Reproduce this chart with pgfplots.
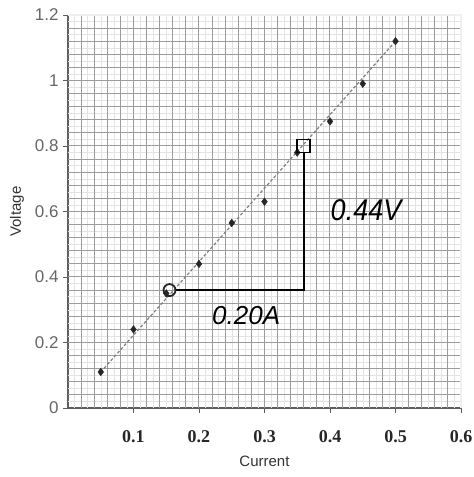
\documentclass[border=0pt]{standalone}
\usepackage{fontspec}
\setmainfont{Liberation Serif}
\setsansfont{Liberation Sans}
\usepackage{pgfplots}
\pgfplotsset{compat=1.18}

\definecolor{gridmaj}{HTML}{9C9C9C}
\definecolor{gridmin}{HTML}{E3E3E3}
\definecolor{axgray}{HTML}{5E5E5E}

\begin{document}
\begin{tikzpicture}
\begin{axis}[
  scale only axis,
  width=393pt, height=393pt,
  xmin=0, xmax=0.6, ymin=0, ymax=1.2,
  axis x line*=bottom, axis y line*=left,
  axis line style={axgray, line width=1.3pt},
  xtick={0.1,0.2,0.3,0.4,0.5,0.6},
  ytick={0,0.2,0.4,0.6,0.8,1,1.2},
  tick style={axgray, line width=0.9pt},
  major tick length=5pt,
  tick align=outside,
  /pgf/number format/assume math mode=true,
  xticklabel style={font=\fontsize{18}{20}\selectfont\bfseries, text=black!85, yshift=-14pt},
  yticklabel style={font=\sffamily\fontsize{17}{19}\selectfont, text=black!60, xshift=-1pt},
  xlabel={Current}, ylabel={Voltage},
  xlabel style={font=\sffamily\fontsize{15}{17}\selectfont, yshift=-6pt, text=black!80},
  ylabel style={font=\sffamily\fontsize{15}{17}\selectfont, yshift=4pt, text=black!80},
  clip=false,
]
  % graph paper: faint lines
  \pgfplotsinvokeforeach{0.01,0.03,...,0.59}{
    \draw[gridmin, line width=0.45pt] (axis cs:#1,0) -- (axis cs:#1,1.2);
  }
  \pgfplotsinvokeforeach{0.02,0.06,...,1.18}{
    \draw[gridmin, line width=0.45pt] (axis cs:0,#1) -- (axis cs:0.6,#1);
  }
  % graph paper: main lines
  \pgfplotsinvokeforeach{0.02,0.04,...,0.59}{
    \draw[gridmaj, line width=1.0pt] (axis cs:#1,0) -- (axis cs:#1,1.2);
  }
  \pgfplotsinvokeforeach{0.04,0.08,...,1.18}{
    \draw[gridmaj, line width=1.0pt] (axis cs:0,#1) -- (axis cs:0.6,#1);
  }
  \draw[gridmin!80!black!20, line width=1.2pt] (rel axis cs:0,1) -- (rel axis cs:1,1) -- (rel axis cs:1,0);

  % trend line
  \addplot[black!50, densely dashed, line width=1.2pt, mark=none] coordinates {(0.05,0.11) (0.5,1.12)};
  % data
  \addplot[only marks, mark=diamond*, mark size=3.8pt, black!85] coordinates {
    (0.05,0.11) (0.1,0.24) (0.15,0.35) (0.2,0.44) (0.25,0.565)
    (0.3,0.63) (0.35,0.78) (0.4,0.875) (0.45,0.99) (0.5,1.12)};

  % hand-drawn slope triangle
  \draw[black, line width=1.8pt] (axis cs:0.165,0.36) -- (axis cs:0.36,0.36) -- (axis cs:0.36,0.783);
  \addplot[only marks, mark=o, mark size=6pt, black!85, line width=1.8pt, fill=white] coordinates {(0.155,0.36)};
  \addplot[only marks, mark=square, mark size=6.5pt, black, line width=1.8pt] coordinates {(0.36,0.80)};
  \node[font=\sffamily\itshape\fontsize{30}{32}\selectfont, xscale=0.9] at (axis cs:0.455,0.605) {0.44V};
  \node[font=\sffamily\itshape\fontsize{26}{28}\selectfont] at (axis cs:0.272,0.283) {0.20A};
\end{axis}
\pgfresetboundingbox
\path ([shift={(-68pt,-69pt)}]current axis.south west) rectangle ([shift={(13pt,15pt)}]current axis.north east);
\end{tikzpicture}
\end{document}
